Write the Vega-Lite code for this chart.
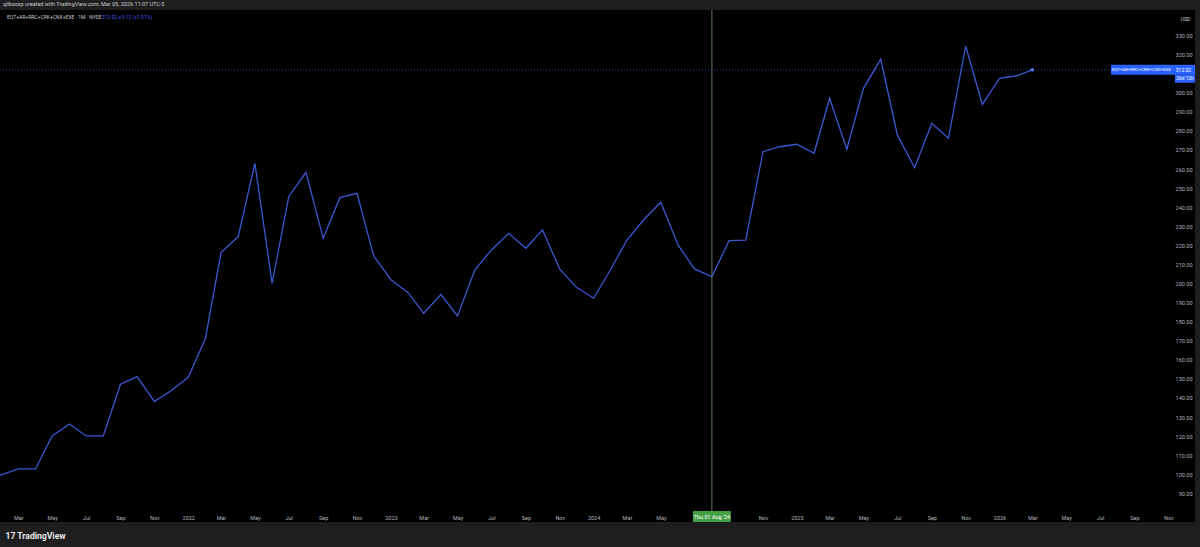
{
  "$schema": "https://vega.github.io/schema/vega-lite/v6.json",
  "width": 1195,
  "height": 512,
  "autosize": {"type": "none"},
  "padding": {"left": 0, "top": 10, "right": 5, "bottom": 25},
  "background": "#1e1e1e",
  "config": {"view": {"fill": "#000000", "stroke": null}, "font": "Roboto", "axis": {"labelOverlap": false}},
  "title": {"text": "qllbsoxp created with TradingView.com, Mar 05, 2026 11:07 UTC-5", "anchor": "start", "frame": "group", "fontSize": 5.5, "fontWeight": "normal", "color": "#c8cad0", "offset": 2, "dx": 3, "dy": 5, "baseline": "bottom"},
  "datasets": {
    "series": [
      {"date": "2021-01-01", "value": 97.5},
      {"date": "2021-02-01", "value": 100.0},
      {"date": "2021-03-01", "value": 102.8},
      {"date": "2021-04-01", "value": 102.8},
      {"date": "2021-05-01", "value": 120.1},
      {"date": "2021-06-01", "value": 126.4},
      {"date": "2021-07-01", "value": 120.1},
      {"date": "2021-08-01", "value": 120.1},
      {"date": "2021-09-01", "value": 147.2},
      {"date": "2021-10-01", "value": 151.2},
      {"date": "2021-11-01", "value": 138.1},
      {"date": "2021-12-01", "value": 143.8},
      {"date": "2022-01-01", "value": 150.8},
      {"date": "2022-02-01", "value": 171.3},
      {"date": "2022-03-01", "value": 216.2},
      {"date": "2022-04-01", "value": 224.6},
      {"date": "2022-05-01", "value": 263.0},
      {"date": "2022-06-01", "value": 200.1},
      {"date": "2022-07-01", "value": 245.5},
      {"date": "2022-08-01", "value": 258.3},
      {"date": "2022-09-01", "value": 223.7},
      {"date": "2022-10-01", "value": 245.0},
      {"date": "2022-11-01", "value": 247.3},
      {"date": "2022-12-01", "value": 214.4},
      {"date": "2023-01-01", "value": 202.0},
      {"date": "2023-02-01", "value": 195.2},
      {"date": "2023-03-01", "value": 184.4},
      {"date": "2023-04-01", "value": 194.2},
      {"date": "2023-05-01", "value": 183.0},
      {"date": "2023-06-01", "value": 207.1},
      {"date": "2023-07-01", "value": 217.6},
      {"date": "2023-08-01", "value": 226.3},
      {"date": "2023-09-01", "value": 218.5},
      {"date": "2023-10-01", "value": 228.1},
      {"date": "2023-11-01", "value": 207.5},
      {"date": "2023-12-01", "value": 198.0},
      {"date": "2024-01-01", "value": 192.3},
      {"date": "2024-02-01", "value": 207.5},
      {"date": "2024-03-01", "value": 222.8},
      {"date": "2024-04-01", "value": 233.7},
      {"date": "2024-05-01", "value": 242.6},
      {"date": "2024-06-01", "value": 220.2},
      {"date": "2024-07-01", "value": 207.5},
      {"date": "2024-08-01", "value": 203.6},
      {"date": "2024-09-01", "value": 222.5},
      {"date": "2024-10-01", "value": 222.8},
      {"date": "2024-11-01", "value": 269.1},
      {"date": "2024-12-01", "value": 271.7},
      {"date": "2025-01-01", "value": 273.0},
      {"date": "2025-02-01", "value": 268.3},
      {"date": "2025-03-01", "value": 297.1},
      {"date": "2025-04-01", "value": 270.4},
      {"date": "2025-05-01", "value": 302.3},
      {"date": "2025-06-01", "value": 317.5},
      {"date": "2025-07-01", "value": 277.9},
      {"date": "2025-08-01", "value": 260.7},
      {"date": "2025-09-01", "value": 284.0},
      {"date": "2025-10-01", "value": 276.1},
      {"date": "2025-11-01", "value": 324.5},
      {"date": "2025-12-01", "value": 293.9},
      {"date": "2026-01-01", "value": 307.6},
      {"date": "2026-02-01", "value": 308.9},
      {"date": "2026-03-01", "value": 312.02}
    ],
    "last": [{"date": "2026-03-01", "value": 312.02, "name": "EQT+AR+RRC+CRK+CNX+EXE", "price": "312.02", "countdown": "26d 12h"}],
    "cross": [{"date": "2024-08-01", "label": "Thu 01 Aug '24"}],
    "header": [{"symbol": "EQT+AR+RRC+CRK+CNX+EXE · 1M · NYSE", "quote": "312.02 +3.12 (+1.01%)"}]
  },
  "layer": [
    {
      "data": {"name": "series"},
      "mark": {"type": "line", "color": "#3a58d0", "strokeWidth": 1.3, "clip": true},
      "encoding": {
        "x": {
          "field": "date", "type": "temporal",
          "scale": {"type": "utc", "nice": false, "domain": [{"year": 2021, "month": 1, "date": 27, "utc": true}, {"year": 2026, "month": 12, "date": 19, "utc": true}]},
          "axis": {
            "orient": "bottom", "zindex": 1, "domain": false, "ticks": false, "tickSize": 0, "grid": false,
            "labelPadding": -5, "labelBaseline": "middle", "labelFontSize": 5.5, "labelColor": "#b2b5be",
            "labelFlush": false, "labelOverlap": false,
            "tickCount": {"interval": "month", "step": 2},
            "labelExpr": "(utcFormat(datum.value, '%Y-%m') == '2024-07' || utcFormat(datum.value, '%Y-%m') == '2024-09') ? '' : (utcFormat(datum.value, '%m') == '01' ? utcFormat(datum.value, '%Y') : utcFormat(datum.value, '%b'))",
            "title": "17  TradingView", "titleX": 5, "titleY": 13, "titleAlign": "left", "titleAnchor": "start", "titleBaseline": "middle",
            "titleFontSize": 8.6, "titleFontWeight": "bold", "titleColor": "#e8e8e8"
          }
        },
        "y": {
          "field": "value", "type": "quantitative",
          "scale": {"domain": [75, 343.37], "nice": false, "zero": false},
          "axis": {
            "orient": "right", "zindex": 1, "domain": false, "ticks": false, "tickSize": 0, "grid": false,
            "tickCount": 60,
            "values": [90, 100, 110, 120, 130, 140, 150, 160, 170, 180, 190, 200, 210, 220, 230, 240, 250, 260, 270, 280, 290, 300, 320, 330],
            "format": ".2f", "labelAlign": "right", "labelPadding": -3, "labelFontSize": 5.5, "labelColor": "#b2b5be",
            "labelBaseline": "middle", "labelFlush": false, "labelOverlap": false,
            "title": "USD", "titleAngle": 0, "titleX": -10, "titleY": 8, "titleAlign": "center", "titleBaseline": "middle",
            "titleFontSize": 5, "titleFontWeight": "normal", "titleColor": "#d1d4dc"
          }
        }
      }
    },
    {
      "data": {"name": "cross"},
      "mark": {"type": "rule", "color": "#5c7d55", "strokeWidth": 1},
      "encoding": {"x": {"field": "date", "type": "temporal"}}
    },
    {
      "data": {"name": "last"},
      "mark": {"type": "rule", "color": "#2a44a8", "strokeWidth": 1, "strokeDash": [1, 2]},
      "encoding": {"y": {"field": "value", "type": "quantitative"}}
    },
    {
      "data": {"name": "last"},
      "mark": {"type": "circle", "color": "#5a78ff", "size": 12, "opacity": 1},
      "encoding": {"x": {"field": "date", "type": "temporal"}, "y": {"field": "value", "type": "quantitative"}}
    },
    {
      "data": {"name": "last"},
      "mark": {"type": "rect", "color": "#2962ff", "xOffset": -84, "x2Offset": -23, "yOffset": -5, "y2Offset": 5, "cornerRadius": 1},
      "encoding": {
        "x": {"datum": {"year": 2026, "month": 12, "date": 19, "utc": true}, "type": "temporal"},
        "x2": {"datum": {"year": 2026, "month": 12, "date": 19, "utc": true}},
        "y": {"field": "value", "type": "quantitative"},
        "y2": {"field": "value"}
      }
    },
    {
      "data": {"name": "last"},
      "mark": {"type": "rect", "color": "#2962ff", "xOffset": -23, "x2Offset": 0, "yOffset": -5, "y2Offset": 5},
      "encoding": {
        "x": {"datum": {"year": 2026, "month": 12, "date": 19, "utc": true}, "type": "temporal"},
        "x2": {"datum": {"year": 2026, "month": 12, "date": 19, "utc": true}},
        "y": {"field": "value", "type": "quantitative"},
        "y2": {"field": "value"}
      }
    },
    {
      "data": {"name": "last"},
      "mark": {"type": "rect", "color": "#2962ff", "xOffset": -20, "x2Offset": 0, "yOffset": 5, "y2Offset": 13},
      "encoding": {
        "x": {"datum": {"year": 2026, "month": 12, "date": 19, "utc": true}, "type": "temporal"},
        "x2": {"datum": {"year": 2026, "month": 12, "date": 19, "utc": true}},
        "y": {"field": "value", "type": "quantitative"},
        "y2": {"field": "value"}
      }
    },
    {
      "data": {"name": "last"},
      "mark": {"type": "text", "color": "#ffffff", "fontSize": 4.4, "align": "center", "baseline": "middle", "dx": -53.5},
      "encoding": {
        "x": {"datum": {"year": 2026, "month": 12, "date": 19, "utc": true}, "type": "temporal"},
        "y": {"field": "value", "type": "quantitative"},
        "text": {"field": "name"}
      }
    },
    {
      "data": {"name": "last"},
      "mark": {"type": "text", "color": "#ffffff", "fontSize": 5, "align": "center", "baseline": "middle", "dx": -11.5},
      "encoding": {
        "x": {"datum": {"year": 2026, "month": 12, "date": 19, "utc": true}, "type": "temporal"},
        "y": {"field": "value", "type": "quantitative"},
        "text": {"field": "price"}
      }
    },
    {
      "data": {"name": "last"},
      "mark": {"type": "text", "color": "#ffffff", "fontSize": 4.8, "align": "center", "baseline": "middle", "dx": -10, "dy": 9},
      "encoding": {
        "x": {"datum": {"year": 2026, "month": 12, "date": 19, "utc": true}, "type": "temporal"},
        "y": {"field": "value", "type": "quantitative"},
        "text": {"field": "countdown"}
      }
    },
    {
      "data": {"name": "cross"},
      "mark": {"type": "rect", "color": "#43a047", "xOffset": -19, "x2Offset": 19, "yOffset": -11, "y2Offset": 0, "cornerRadius": 1},
      "encoding": {
        "x": {"field": "date", "type": "temporal"},
        "x2": {"field": "date"},
        "y": {"datum": 75, "type": "quantitative"},
        "y2": {"datum": 75}
      }
    },
    {
      "data": {"name": "cross"},
      "mark": {"type": "text", "color": "#ffffff", "fontSize": 5.5, "align": "center", "baseline": "middle", "dy": -5.5},
      "encoding": {
        "x": {"field": "date", "type": "temporal"},
        "y": {"datum": 75, "type": "quantitative"},
        "text": {"field": "label"}
      }
    },
    {
      "data": {"name": "header"},
      "mark": {"type": "text", "color": "#c8cad0", "fontSize": 5, "align": "left", "baseline": "middle", "dx": 7, "dy": 7},
      "encoding": {
        "x": {"datum": {"year": 2021, "month": 1, "date": 27, "utc": true}, "type": "temporal"},
        "y": {"datum": 343.37, "type": "quantitative"},
        "text": {"field": "symbol"}
      }
    },
    {
      "data": {"name": "header"},
      "mark": {"type": "text", "color": "#3b5ee8", "fontSize": 5, "align": "left", "baseline": "middle", "dx": 102, "dy": 7},
      "encoding": {
        "x": {"datum": {"year": 2021, "month": 1, "date": 27, "utc": true}, "type": "temporal"},
        "y": {"datum": 343.37, "type": "quantitative"},
        "text": {"field": "quote"}
      }
    }
  ]
}
